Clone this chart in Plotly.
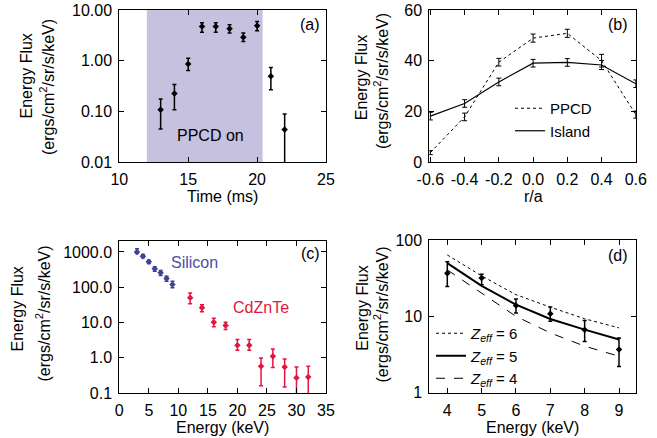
import plotly.graph_objects as go

W, H = 657, 438
FONT = "Liberation Sans, Arial, Helvetica, sans-serif"

# ---------------- data ----------------
# (a) energy flux vs time
time_ms = [13, 14, 15, 16, 17, 18, 19, 20, 21, 22]
flux_a = [0.108, 0.224, 0.86, 4.7, 4.7, 4.25, 2.9, 4.9, 0.49, 0.044]
flux_a_hi = [0.176, 0.337, 1.12, 5.6, 5.6, 5.1, 3.5, 5.9, 0.73, 0.089]
flux_a_lo = [0.045, 0.108, 0.64, 3.65, 3.65, 3.5, 2.4, 3.9, 0.268, 0.003]
ppcd_on_start, ppcd_on_end = 12.0, 20.4

# (b) profiles vs r/a
r_over_a = [-0.6, -0.4, -0.2, 0.0, 0.2, 0.4, 0.6]
ppcd_b = [3.7, 17.8, 39.4, 48.9, 50.8, 40.0, 18.7]
ppcd_b_err = [0.8, 1.5, 1.5, 1.6, 1.6, 2.5, 1.4]
island_b = [18.1, 23.1, 31.6, 39.0, 39.3, 38.3, 30.9]
island_b_err = [1.5, 1.5, 1.5, 1.5, 1.5, 1.8, 1.5]

# (c) spectra
si_energy = [3, 4, 5, 6, 7, 8, 9]
si_flux = [1000, 760, 525, 332, 257, 177, 119]
si_hi = [1230, 849, 585, 380, 298, 206, 148]
si_lo = [905, 684, 471, 285, 215, 148, 96]
cz_energy = [12, 14, 16, 18, 20, 22, 24, 26, 28, 30, 32]
cz_flux = [50, 26, 10.1, 8.2, 2.25, 2.25, 0.57, 1.1, 0.55, 0.27, 0.285]
cz_hi = [69, 32, 13.2, 10.1, 3.27, 3.27, 0.99, 1.78, 0.92, 0.55, 0.57]
cz_lo = [34, 20, 7.5, 6.3, 1.63, 1.63, 0.16, 0.53, 0.148, 0.03, 0.03]

# (d) measured spectrum vs model Zeff
d_energy = [4, 5, 6, 7, 8, 9]
d_flux = [36.8, 31.7, 13.9, 10.8, 6.7, 3.68]
d_hi = [52, 35.7, 16.9, 13.3, 8.8, 5.2]
d_lo = [24.6, 25.9, 11.1, 8.6, 4.7, 2.2]
zeff6 = [63.7, 33.9, 19.2, 13.2, 9.3, 7.06]
zeff5 = [49.7, 25.1, 14.2, 9.25, 6.7, 4.97]
zeff4 = [40.6, 20.2, 10.0, 6.07, 4.07, 3.0]

# tick labels
a_yvals = [0.01, 0.1, 1, 10]
a_ytext = ["0.01", "0.10", "1.00", "10.00"]
a_xvals = [10, 15, 20, 25]
b_xvals = [-0.6, -0.4, -0.2, 0.0, 0.2, 0.4, 0.6]
b_xtext = ["-0.6", "-0.4", "-0.2", "0.0", "0.2", "0.4", "0.6"]
b_yvals = [0, 20, 40, 60]
c_xvals = [0, 5, 10, 15, 20, 25, 30, 35]
c_yvals = [0.1, 1, 10, 100, 1000]
c_ytext = ["0.1", "1.0", "10.0", "100.0", "1000.0"]
d_xvals = [4, 5, 6, 7, 8, 9]
d_yvals = [1, 10, 100]
d_ytext = ["1", "10", "100"]


def px(x):
    return x / W


def py(y):
    return 1 - y / H


def diff(a, b):
    return [u - v for u, v in zip(a, b)]


BLUE = "#41419a"
RED = "#e3173d"

fig = go.Figure()

# (a)
fig.add_trace(go.Scatter(
    x=time_ms, y=flux_a, mode="markers", xaxis="x", yaxis="y",
    marker=dict(color="black", size=5, symbol="diamond"),
    error_y=dict(type="data", array=diff(flux_a_hi, flux_a), arrayminus=diff(flux_a, flux_a_lo),
                 color="black", thickness=1.5, width=2),
    showlegend=False))

# (b)
fig.add_trace(go.Scatter(
    x=r_over_a, y=ppcd_b, mode="lines", xaxis="x2", yaxis="y2", name="PPCD",
    line=dict(color="black", width=1, dash="dot"),
    error_y=dict(type="data", array=ppcd_b_err, color="black", thickness=1, width=2.5),
    legend="legend"))
fig.add_trace(go.Scatter(
    x=r_over_a, y=island_b, mode="lines", xaxis="x2", yaxis="y2", name="Island",
    line=dict(color="black", width=1.2),
    error_y=dict(type="data", array=island_b_err, color="black", thickness=1, width=2.5),
    legend="legend"))

# (c)
fig.add_trace(go.Scatter(
    x=si_energy, y=si_flux, mode="markers", xaxis="x3", yaxis="y3",
    marker=dict(color=BLUE, size=5, symbol="diamond"),
    error_y=dict(type="data", array=diff(si_hi, si_flux), arrayminus=diff(si_flux, si_lo),
                 color=BLUE, thickness=1.5, width=2),
    showlegend=False))
fig.add_trace(go.Scatter(
    x=cz_energy, y=cz_flux, mode="markers", xaxis="x3", yaxis="y3",
    marker=dict(color=RED, size=5, symbol="diamond"),
    error_y=dict(type="data", array=diff(cz_hi, cz_flux), arrayminus=diff(cz_flux, cz_lo),
                 color=RED, thickness=1.5, width=2),
    showlegend=False))

# (d)
fig.add_trace(go.Scatter(
    x=d_energy, y=zeff6, mode="lines", xaxis="x4", yaxis="y4",
    name="<i>Z</i><sub><i>eff</i></sub> = 6",
    line=dict(color="black", width=1, dash="dot"), legend="legend2"))
fig.add_trace(go.Scatter(
    x=d_energy, y=zeff5, mode="lines", xaxis="x4", yaxis="y4",
    name="<i>Z</i><sub><i>eff</i></sub> = 5",
    line=dict(color="black", width=2), legend="legend2"))
fig.add_trace(go.Scatter(
    x=d_energy, y=zeff4, mode="lines", xaxis="x4", yaxis="y4",
    name="<i>Z</i><sub><i>eff</i></sub> = 4",
    line=dict(color="black", width=1, dash="dash"), legend="legend2"))
fig.add_trace(go.Scatter(
    x=d_energy, y=d_flux, mode="markers", xaxis="x4", yaxis="y4",
    marker=dict(color="black", size=5, symbol="diamond"),
    error_y=dict(type="data", array=diff(d_hi, d_flux), arrayminus=diff(d_flux, d_lo),
                 color="black", thickness=1.5, width=2),
    showlegend=False))

axis_common = dict(
    showline=True, linecolor="black", linewidth=1, mirror="ticks",
    ticks="inside", ticklen=5, tickwidth=1, tickcolor="black",
    showgrid=False, zeroline=False, automargin=False,
    tickfont=dict(family=FONT, size=16, color="black"),
)

dom_top = [py(162), py(10)]
dom_bot = [py(393), py(241)]
left_dom = [px(119.3), px(326)]
right_dom = [px(429.3), px(636)]

fig.update_layout(
    template="none",
    width=W, height=H,
    margin=dict(l=0, r=0, t=0, b=0, pad=0),
    paper_bgcolor="white", plot_bgcolor="white",
    font=dict(family=FONT, size=16, color="black"),
    xaxis=dict(axis_common, domain=left_dom, anchor="y", range=[10, 25],
               tickvals=a_xvals, ticklabelstandoff=3),
    yaxis=dict(axis_common, domain=dom_top, anchor="x", type="log", range=[-2, 1],
               tickvals=a_yvals, ticktext=a_ytext, ticklabelstandoff=3),
    xaxis2=dict(axis_common, domain=right_dom, anchor="y2", range=[-0.606, 0.601],
                tickvals=b_xvals, ticktext=b_xtext, ticklabelstandoff=3),
    yaxis2=dict(axis_common, domain=dom_top, anchor="x2", range=[0, 60],
                tickvals=b_yvals, ticklabelstandoff=3),
    xaxis3=dict(axis_common, domain=left_dom, anchor="y3", range=[0, 35],
                tickvals=c_xvals, ticklabelstandoff=3),
    yaxis3=dict(axis_common, domain=dom_bot, anchor="x3", type="log", range=[-1, 3.31],
                tickvals=c_yvals, ticktext=c_ytext, ticklabelstandoff=3),
    xaxis4=dict(axis_common, domain=right_dom, anchor="y4", range=[3.476, 9.495],
                tickvals=d_xvals, ticklabelstandoff=3),
    yaxis4=dict(axis_common, domain=[py(392.7), py(240)], anchor="x4", type="log", range=[0, 2],
                tickvals=d_yvals, ticktext=d_ytext, ticklabelstandoff=3),
    legend=dict(x=px(510), y=py(92), xanchor="left", yanchor="top",
                bgcolor="rgba(0,0,0,0)", font=dict(family=FONT, size=15),
                itemwidth=30, tracegroupgap=0),
    legend2=dict(x=px(431), y=py(317), xanchor="left", yanchor="top",
                 bgcolor="rgba(0,0,0,0)", font=dict(family=FONT, size=15),
                 itemwidth=30, tracegroupgap=0),
)

# shaded PPCD-on interval
fig.add_shape(type="rect", xref="x", yref="y domain", x0=ppcd_on_start, x1=ppcd_on_end,
              y0=0, y1=1, fillcolor="#c5c1de", line=dict(width=0), layer="below")

ann = []


def text(x, y, s, color="black", angle=0, size=16):
    ann.append(dict(x=px(x), y=py(y), xref="paper", yref="paper", text=s, showarrow=False,
                    xanchor="center", yanchor="middle", textangle=angle,
                    font=dict(family=FONT, size=size, color=color)))


text(309.5, 25, "(a)")
text(617.5, 25, "(b)")
text(310, 253, "(c)")
text(618, 255, "(d)")
text(210.5, 135, "PPCD on")
text(194, 262, "Silicon", color="#4d4da6")
text(261, 307, "CdZnTe", color=RED)

# axis titles
text(222.7, 196, "Time (ms)")
text(533.3, 197, "r/a")
text(222.7, 427.5, "Energy (keV)")
text(532.7, 427.5, "Energy (keV)")

ylab1 = "Energy Flux"
ylab2 = "(ergs/cm<sup>2</sup>/sr/s/keV)"
text(25.5, 76, ylab1, angle=-90)
text(47, 87, ylab2, angle=-90)
text(361.7, 77.5, ylab1, angle=-90)
text(381, 81, ylab2, angle=-90)
text(16.5, 309, ylab1, angle=-90)
text(43.5, 314, ylab2, angle=-90)
text(361.7, 308, ylab1, angle=-90)
text(381.5, 315, ylab2, angle=-90)

fig.update_layout(annotations=ann)

fig.write_html("out.html", config={"displayModeBar": False},
               post_script="document.body.style.margin='0px';")
